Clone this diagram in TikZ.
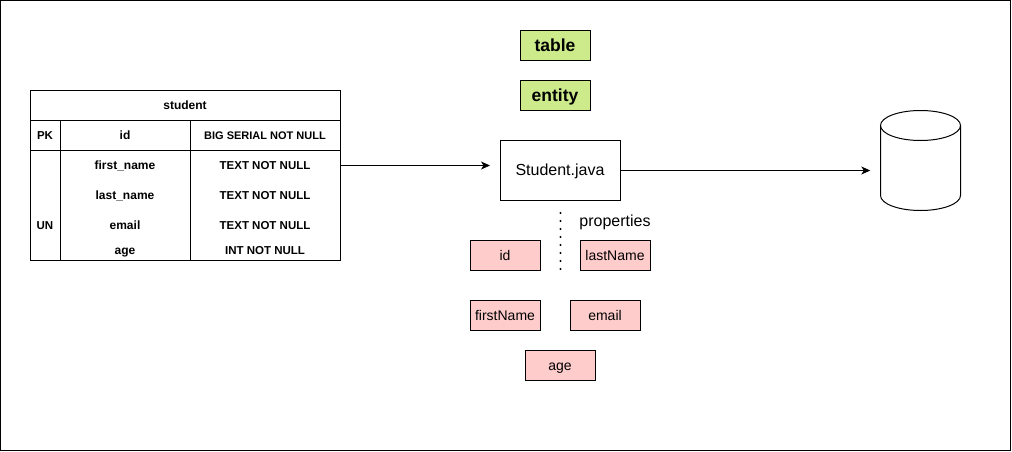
\documentclass[tikz,border=0pt]{standalone}
\usepackage{fontspec}
\setmainfont{Liberation Sans}
\usetikzlibrary{arrows.meta}
\definecolor{greenfill}{HTML}{CDEB8B}
\definecolor{redfill}{HTML}{FFCCCC}
\tikzset{
  line/.style={draw=black,line width=1pt},
  cell/.style={inner sep=0pt,text height=8.5pt,text depth=2.5pt,yshift=-1.3pt,xshift=-0.5pt,font=\fontsize{11.5}{13}\selectfont\bfseries,anchor=center},
  wide/.style={cell,font=\fontsize{12}{13}\selectfont\bfseries},
  narrow/.style={cell,font=\fontsize{11}{13}\selectfont\bfseries},
  rowhook/.style={minimum width=#1,minimum height=30pt,inner sep=0pt},
  tag/.style={draw=none,minimum width=70pt,minimum height=30pt,inner sep=0pt},
  tagbox/.style={line,fill=greenfill,minimum width=70pt,minimum height=30pt,inner sep=0pt},
  tagtext/.style={inner sep=0pt,text height=12pt,text depth=3.5pt,yshift=-1.5pt,xshift=-0.5pt,font=\fontsize{17.5}{19}\selectfont\bfseries},
  propbox/.style={line,fill=redfill,minimum width=70pt,minimum height=30pt,inner sep=0pt},
  proptext/.style={inner sep=0pt,text height=10pt,text depth=3pt,yshift=-1pt,xshift=-0.5pt,font=\fontsize{14}{16}\selectfont},
  conn/.style={line,-{Stealth[length=9pt,width=8pt,inset=2.5pt]}}
}
\begin{document}
\begin{tikzpicture}[x=1pt,y=-1pt]
\useasboundingbox (0,0) rectangle (1012,452);
\fill[white] (0,0) rectangle (1012,452);
\draw[line] (0.5,0.5) rectangle (1010.5,450.5);
\begin{scope}[shift={(0.5,0.5)}]
% table
\node[line,minimum width=310pt,minimum height=170pt,inner sep=0pt] (tbl) at (185,175) {};
\coordinate (rule1l) at (30,120); \coordinate (rule1r) at (340,120);
\coordinate (rule2l) at (30,150); \coordinate (rule2r) at (340,150);
\coordinate (col1t) at (60,120); \coordinate (col1b) at (60,260);
\coordinate (col2t) at (190,120); \coordinate (col2b) at (190,260);
\draw[line] (rule1l) -- (rule1r);
\draw[line] (rule2l) -- (rule2r);
\draw[line] (col1t) -- (col1b);
\draw[line] (col2t) -- (col2b);
\node[wide] (title) at (185,105) {student};
\node[cell] (pk) at (45,135) {PK};
\node[wide] (idcol) at (125,135) {id};
\node[narrow] (idtype) at (265,135) {BIG SERIAL NOT NULL};
\node[wide] (fn) at (125,165) {first\_name};
\node[cell] (fntype) at (265,165) {TEXT NOT NULL};
\node[rowhook=150pt] (fnrow) at (265,165) {};
\node[wide] (ln) at (125,195) {last\_name};
\node[cell] (lntype) at (265,195) {TEXT NOT NULL};
\node[cell] (un) at (45,225) {UN};
\node[wide] (em) at (125,225) {email};
\node[cell] (emtype) at (265,225) {TEXT NOT NULL};
\node[wide] (ag) at (125,250) {age};
\node[cell] (agtype) at (265,250) {INT NOT NULL};
% labels
\node[tagbox] (tablebox) at (555,45) {};
\node[tagtext] (table) at (555,45) {table};
\node[tagbox] (entitybox) at (555,95) {};
\node[tagtext] (entity) at (555,95) {entity};
% class
\node[line,minimum width=120pt,minimum height=60pt,inner sep=0pt] (java) at (560,170) {};
\node[inner sep=0pt,text height=11.5pt,text depth=3.5pt,yshift=-0.8pt,xshift=-0.5pt,font=\fontsize{16}{18}\selectfont] (javatext) at (560,170) {Student.java};
% properties
\coordinate (dotsa) at (560,212.5);
\coordinate (dotsb) at (560,269.5);
\draw[line width=2.4pt,line cap=round,dash pattern=on 0pt off 8pt] (dotsa) -- (dotsb);
\node[inner sep=0pt,text height=11pt,text depth=3.5pt,yshift=-1.5pt,xshift=-0.5pt,font=\fontsize{16}{18}\selectfont] (props) at (615,220.5) {properties};
\node[propbox] (pidbox) at (505,255) {};
\node[proptext] (pid) at (505,255) {id};
\node[propbox] (plastbox) at (615,255) {};
\node[proptext] (plast) at (615,255) {lastName};
\node[propbox] (pfirstbox) at (505,315) {};
\node[proptext] (pfirst) at (505,315) {firstName};
\node[propbox] (pemailbox) at (605,315) {};
\node[proptext] (pemail) at (605,315) {email};
\node[propbox] (pagebox) at (560,365) {};
\node[proptext] (page) at (560,365) {age};
% database
\node[minimum width=80pt,minimum height=100pt,inner sep=0pt] (db) at (920,160) {};
\draw[line] (880,125) -- (880,195) arc[start angle=180,end angle=360,x radius=40,y radius=-15] -- (960,125);
\draw[line] (920,125) ellipse[x radius=40,y radius=15];
% connectors
\draw[conn,shorten >=10pt] (fnrow.east) -- (java.west |- fnrow.east);
\draw[conn,shorten >=10pt] (java.east) -- (java.east -| db.west);
\end{scope}
\end{tikzpicture}
\end{document}
